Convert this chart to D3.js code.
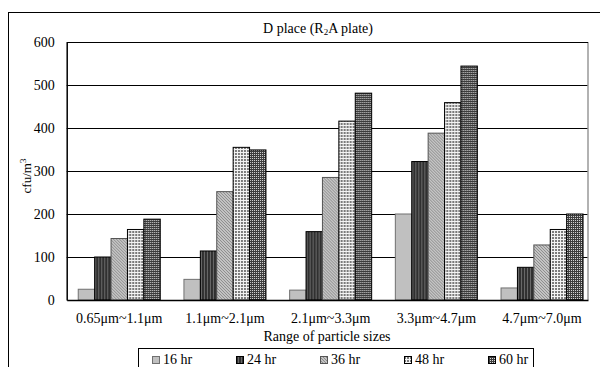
<!DOCTYPE html>
<html>
<head>
<meta charset="utf-8">
<script src="https://cdn.jsdelivr.net/npm/d3@7"></script>
<style>
  body { margin: 0; background: #fff; }
  svg text { font-family: "Liberation Serif", "Times New Roman", "DejaVu Serif", serif !important; fill: #000; }
</style>
</head>
<body>
<script>
// chart values
const categories = ["0.65\u03bcm~1.1\u03bcm", "1.1\u03bcm~2.1\u03bcm", "2.1\u03bcm~3.3\u03bcm", "3.3\u03bcm~4.7\u03bcm", "4.7\u03bcm~7.0\u03bcm"];
const seriesNames = ["16 hr", "24 hr", "36 hr", "48 hr", "60 hr"];
const hr16 = [25, 48, 23, 200, 28];
const hr24 = [100, 114, 159, 322, 76];
const hr36 = [143, 252, 285, 388, 128];
const hr48 = [164, 355, 416, 459, 164];
const hr60 = [188, 349, 481, 544, 200];
const yTicks = [0, 100, 200, 300, 400, 500, 600];

const seriesValues = [hr16, hr24, hr36, hr48, hr60];

const width = 600;
const height = 367;
const margin = { top: 42, right: 12, bottom: 67, left: 66.7 };
const serif = "'Liberation Serif', 'Times New Roman', 'DejaVu Serif', serif";

const svg = d3.select("body")
  .append("svg")
  .attr("width", width)
  .attr("height", height)
  .attr("font-family", serif);

// fill patterns for the five series
const defs = svg.append("defs");

function addPattern(id, size, bg, draw) {
  const p = defs.append("pattern")
    .attr("id", id)
    .attr("patternUnits", "userSpaceOnUse")
    .attr("width", size)
    .attr("height", size);
  p.append("rect").attr("width", size).attr("height", size).attr("fill", bg);
  draw(p);
}

addPattern("p24", 3, "#303030", p => {
  p.append("rect").attr("x", 2).attr("width", 1).attr("height", 3).attr("fill", "#6a6a6a");
});
addPattern("p36", 3, "#c4c4c4", p => {
  [0, 1, 2].forEach(k => p.append("rect").attr("x", k).attr("y", k).attr("width", 1).attr("height", 1).attr("fill", "#8c8c8c"));
});
addPattern("p48", 3, "#f4f4f4", p => {
  p.append("rect").attr("x", 0).attr("y", 0).attr("width", 2).attr("height", 2).attr("fill", "#7a7a7a");
});
addPattern("p60", 2, "#3c3c3c", p => {
  p.append("rect").attr("x", 0).attr("y", 0).attr("width", 1).attr("height", 1).attr("fill", "#d8d8d8");
});

const fills = ["#c0c0c0", "url(#p24)", "url(#p36)", "url(#p48)", "url(#p60)"];
const strokes = ["#707070", "#000", "#555", "#000", "#000"];

// outer chart frame
svg.append("rect")
  .attr("x", 8.5)
  .attr("y", 12.5)
  .attr("width", 700)
  .attr("height", 400)
  .attr("fill", "none")
  .attr("stroke", "#000");

const xScale = d3.scaleBand()
  .domain(categories)
  .range([margin.left, width - margin.right])
  .paddingInner(0.224)
  .paddingOuter(0.078)
  .align(0.7);

const xSub = d3.scaleBand()
  .domain(seriesNames)
  .range([0, xScale.bandwidth()]);

const yScale = d3.scaleLinear()
  .domain([0, 600])
  .range([height - margin.bottom, margin.top]);

// gridlines
svg.append("g")
  .selectAll("line")
  .data(yTicks.slice(1, -1))
  .enter()
  .append("line")
  .attr("x1", margin.left)
  .attr("x2", width - margin.right)
  .attr("y1", d => Math.round(yScale(d)) + 0.5)
  .attr("y2", d => Math.round(yScale(d)) + 0.5)
  .attr("stroke", "#000");

// plot frame (right side is grey)
svg.append("line")
  .attr("x1", width - margin.right).attr("x2", width - margin.right)
  .attr("y1", yScale(600)).attr("y2", yScale(0))
  .attr("stroke", "#999").attr("stroke-width", 1.5);
svg.append("line")
  .attr("x1", margin.left).attr("x2", width - margin.right)
  .attr("y1", yScale(600) + 0.5).attr("y2", yScale(600) + 0.5)
  .attr("stroke", "#000");

// bars
const groups = svg.append("g")
  .selectAll("g")
  .data(categories)
  .enter()
  .append("g")
  .attr("transform", d => `translate(${xScale(d)},0)`);

groups.selectAll("rect")
  .data((c, ci) => seriesNames.map((s, si) => ({ s, si, v: seriesValues[si][ci] })))
  .enter()
  .append("rect")
  .attr("x", d => xSub(d.s))
  .attr("y", d => yScale(d.v))
  .attr("width", xSub.bandwidth())
  .attr("height", d => yScale(0) - yScale(d.v))
  .attr("fill", d => fills[d.si])
  .attr("stroke", d => strokes[d.si])
  .attr("stroke-width", 1);

// y axis
const yAxis = d3.axisLeft(yScale)
  .tickValues(yTicks)
  .tickSize(0)
  .tickPadding(12);
svg.append("g")
  .attr("transform", `translate(${margin.left},0)`)
  .call(yAxis)
  .attr("font-family", serif)
  .call(g => g.select(".domain").attr("stroke", "#000").attr("stroke-width", 1.5))
  .selectAll("text")
  .style("font-size", "14px");

// x axis
const xAxis = d3.axisBottom(xScale).tickSize(0).tickPadding(13);
svg.append("g")
  .attr("transform", `translate(0,${yScale(0)})`)
  .call(xAxis)
  .attr("font-family", serif)
  .call(g => g.select(".domain").attr("stroke", "#000").attr("stroke-width", 1.5))
  .selectAll("text")
  .style("font-size", "14px");

// title
const title = svg.append("text")
  .attr("x", 318)
  .attr("y", 33)
  .attr("text-anchor", "middle")
  .style("font-size", "14px");
title.append("tspan").text("D place (R");
title.append("tspan").attr("baseline-shift", "-25%").style("font-size", "9px").text("2");
title.append("tspan").text("A plate)");

// y-axis title
const yTitle = svg.append("text")
  .attr("transform", "rotate(-90)")
  .attr("x", -176)
  .attr("y", 31)
  .attr("text-anchor", "middle")
  .style("font-size", "13px");
yTitle.append("tspan").text("cfu/m");
yTitle.append("tspan").attr("baseline-shift", "super").style("font-size", "9px").text("3");

// x-axis title
svg.append("text")
  .attr("x", 327)
  .attr("y", 341)
  .attr("text-anchor", "middle")
  .style("font-size", "14px")
  .text("Range of particle sizes");

// legend
svg.append("rect")
  .attr("x", 138.5)
  .attr("y", 348.5)
  .attr("width", 395)
  .attr("height", 40)
  .attr("fill", "#fff")
  .attr("stroke", "#000");

const legend = svg.append("g")
  .selectAll("g")
  .data(seriesNames)
  .enter()
  .append("g")
  .attr("transform", (d, i) => `translate(${152 + i * 84},0)`);

legend.append("rect")
  .attr("x", 0.5)
  .attr("y", 356.5)
  .attr("width", 7)
  .attr("height", 7)
  .attr("fill", (d, i) => fills[i])
  .attr("stroke", (d, i) => strokes[i]);

legend.append("text")
  .attr("x", 11)
  .attr("y", 364)
  .style("font-size", "14px")
  .text(d => d);
</script>
</body>
</html>
